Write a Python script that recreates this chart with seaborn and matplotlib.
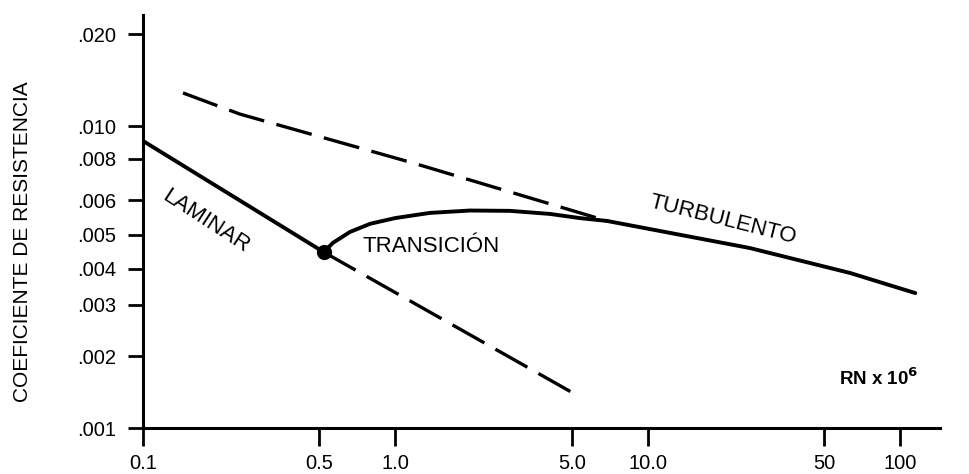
import numpy as np
import matplotlib
matplotlib.use('Agg')
import matplotlib.pyplot as plt
import seaborn as sns
from matplotlib.ticker import NullLocator

sns.set_theme(style='white')
plt.rcParams['font.family'] = ['Liberation Sans', 'DejaVu Sans']

# === AXIS TICKS ===
rn_ticks = [0.1, 0.5, 1.0, 5.0, 10.0, 50, 100]
rn_labels = ['0.1', '0.5', '1.0', '5.0', '10.0', '50', '100']
cf_ticks = [0.001, 0.002, 0.003, 0.004, 0.005, 0.006, 0.008, 0.010, 0.020]
cf_labels = ['.001', '.002', '.003', '.004', '.005', '.006', '.008', '.010', '.020']
# the drawn coefficient axis is not a true log scale:
# height of each tick above the .001 line, in pixels of the original
cf_tick_height = [0, 72, 123, 159, 193, 228, 269, 302, 394]

# === CURVES (RN x 10^6, drag coefficient) ===
laminar_rn = [0.1, 0.52]
laminar_cf = [0.00904, 0.00447]
laminar_ext_rn = [0.52, 5.25]
laminar_ext_cf = [0.00447, 0.00137]
turb_ext_rn = [0.144, 0.242, 1.175, 6.90]
turb_ext_cf = [0.01283, 0.01094, 0.00778, 0.00538]
trans_rn = [0.52, 0.566, 0.661, 0.794, 0.997, 1.37, 1.98, 2.85, 4.10, 5.39, 6.90]
trans_cf = [0.00447, 0.00475, 0.00508, 0.0053, 0.00546, 0.00561, 0.00568, 0.00567,
            0.00558, 0.00546, 0.00538]
turb_rn = [6.90, 25.4, 63.4, 115]
turb_cf = [0.00538, 0.00459, 0.003875, 0.0033]
point_rn = [0.52]
point_cf = [0.00447]

# piecewise log scale built from the tick positions
log_anchor = np.log10([0.0005] + cf_ticks + [0.04])
h_anchor = np.array([-72] + cf_tick_height + [486], dtype=float)


def fwd(v):
    v = np.asarray(v, dtype=float)
    return np.interp(np.log10(np.clip(v, 1e-9, None)), log_anchor, h_anchor)


def inv(h):
    return 10 ** np.interp(np.asarray(h, dtype=float), h_anchor, log_anchor)


fig = plt.figure(figsize=(9.7, 4.74), dpi=100)
ax = fig.add_axes([143 / 970, 46 / 474, 797 / 970, 413 / 474])
ax.set_xscale('log')
ax.set_yscale('function', functions=(fwd, inv))

solid = dict(color='black', linewidth=2.8, sort=False, ax=ax)
dashed = dict(color='black', linewidth=2.4, linestyle=(0, (11, 3.8)), sort=False, ax=ax)

sns.lineplot(x=laminar_rn, y=laminar_cf, **solid)
sns.lineplot(x=laminar_ext_rn, y=laminar_ext_cf, **dashed)
sns.lineplot(x=turb_ext_rn, y=turb_ext_cf, **dashed)
sns.lineplot(x=trans_rn, y=trans_cf, **solid)
sns.lineplot(x=turb_rn, y=turb_cf, **solid)
sns.scatterplot(x=point_rn, y=point_cf, s=120, color='black', linewidth=0, zorder=5, ax=ax)

ax.set_xlim(0.1, 0.1 * 10 ** (797 / 252.33))
ax.set_ylim(0.001, float(inv(413)))

ax.set_xticks(rn_ticks)
ax.set_xticklabels(rn_labels)
ax.set_yticks(cf_ticks)
ax.set_yticklabels(cf_labels)
ax.xaxis.set_minor_locator(NullLocator())
ax.yaxis.set_minor_locator(NullLocator())

ax.tick_params(axis='x', bottom=True, direction='out', length=13, width=2,
               pad=6, labelsize=14.5, colors='black')
ax.tick_params(axis='y', left=True, direction='out', length=11, width=2,
               pad=8, labelsize=14.5, colors='black')
for side in ['top', 'right']:
    ax.spines[side].set_visible(False)
for side in ['left', 'bottom']:
    ax.spines[side].set_color('black')
    ax.spines[side].set_linewidth(2.2)
ax.set_xlabel('')
ax.set_ylabel('')

# region labels
ax.text(0.079, 0.501, 'LAMINAR', transform=ax.transAxes, rotation=-33,
        ha='center', va='center', fontsize=16, color='black', rotation_mode='anchor')
ax.text(0.276, 0.426, 'TRANSICIÓN', transform=ax.transAxes,
        ha='left', va='baseline', fontsize=16, color='black')
ax.text(0.728, 0.504, 'TURBULENTO', transform=ax.transAxes, rotation=-14,
        ha='center', va='center', fontsize=16, color='black', rotation_mode='anchor')
ax.text(0.9724, 0.104, r'RN x 10$^{\mathbf{6}}$', transform=ax.transAxes,
        ha='right', va='baseline', fontsize=13.5, fontweight='bold', color='black')

fig.text(23 / 970, 1 - 242 / 474, 'COEFICIENTE DE RESISTENCIA', rotation=90,
         ha='center', va='center', fontsize=15, color='black')

fig.savefig('out.png', dpi=100, facecolor='white')
